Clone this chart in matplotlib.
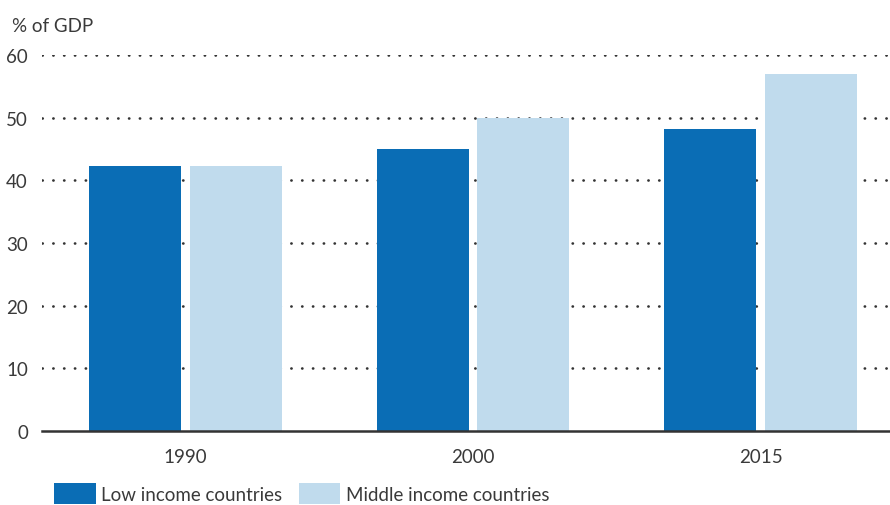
import matplotlib
matplotlib.use("Agg")
import matplotlib.pyplot as plt
import numpy as np

years = ["1990", "2000", "2015"]
low_income = [42.3, 45.0, 48.2]
middle_income = [42.3, 50.0, 57.0]
series_names = ["Low income countries", "Middle income countries"]

DARK = "#0a6db5"
LIGHT = "#c0dbed"
TXT = "#3a3a3a"
plt.rcParams["font.family"] = ["Lato", "DejaVu Sans"]

fig = plt.figure(figsize=(8.9, 5.06), dpi=100)
ax = fig.add_axes([0.047, 0.146, 0.953, 0.743])

x = np.arange(len(years))
w = 0.32
off = 0.175
b1 = ax.bar(x - off, low_income, w, color=DARK, label=series_names[0], zorder=3)
b2 = ax.bar(x + off, middle_income, w, color=LIGHT, label=series_names[1], zorder=3)

ax.set_xlim(-0.5, 2.45)
ax.set_ylim(0, 60)
ax.set_yticks(range(0, 61, 10))
ax.set_xticks(x)
ax.set_xticklabels(years)
for v in range(10, 61, 10):
    ax.axhline(v, color="#333333", lw=1.9, ls=(0, (0.1, 4.0)), dash_capstyle="round", zorder=1)
for s in ["top", "right", "left"]:
    ax.spines[s].set_visible(False)
ax.spines["bottom"].set_color("#333333")
ax.spines["bottom"].set_linewidth(1.8)
ax.spines["bottom"].set_zorder(4)
ax.tick_params(axis="both", length=0, labelsize=13.5, colors=TXT)
ax.tick_params(axis="y", pad=10)
ax.tick_params(axis="x", pad=12)

fig.text(0.013, 0.93, "% of GDP", fontsize=13.5, color=TXT, ha="left", va="bottom")

fig.legend(handles=[b1, b2], loc="lower left", bbox_to_anchor=(0.042, -0.032), ncol=2,
           frameon=False, fontsize=13.5, handlelength=2.2, handleheight=1.4,
           handletextpad=0.3, columnspacing=0.9, labelcolor=TXT)

fig.savefig("out.png", dpi=100)
